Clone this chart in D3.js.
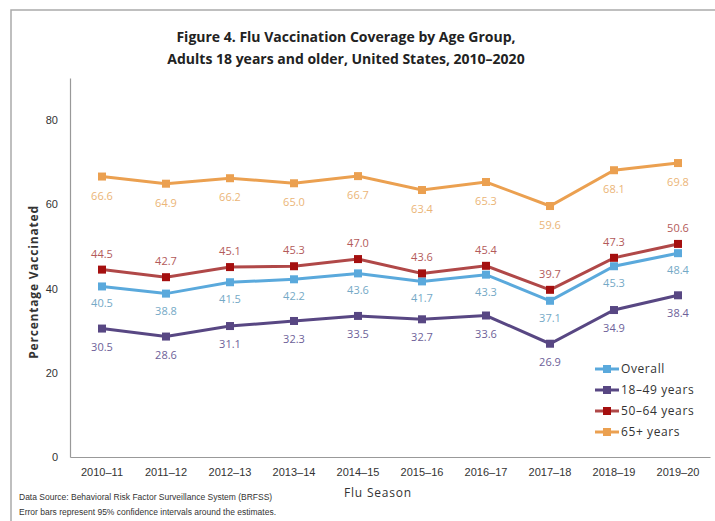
<!DOCTYPE html>
<html>
<head>
<meta charset="utf-8">
<script src="https://cdn.jsdelivr.net/npm/d3@7"></script>
<style>
  body { margin: 0; background: #fff; }
  svg { display: block; font-family: "Open Sans", "Liberation Sans", sans-serif; }
</style>
</head>
<body>
<svg id="chart"></svg>
<script>
const width = 715;
const height = 521;

// Data
const seasons = ["2010\u201311", "2011\u201312", "2012\u201313", "2013\u201314", "2014\u201315",
                 "2015\u201316", "2016\u201317", "2017\u201318", "2018\u201319", "2019\u201320"];
const overall = [40.5, 38.8, 41.5, 42.2, 43.6, 41.7, 43.3, 37.1, 45.3, 48.4];
const age18to49 = [30.5, 28.6, 31.1, 32.3, 33.5, 32.7, 33.6, 26.9, 34.9, 38.4];
const age50to64 = [44.5, 42.7, 45.1, 45.3, 47.0, 43.6, 45.4, 39.7, 47.3, 50.6];
const age65plus = [66.6, 64.9, 66.2, 65.0, 66.7, 63.4, 65.3, 59.6, 68.1, 69.8];
const yTicks = [0, 20, 40, 60, 80];

const series = [
    { name: "Overall", values: overall, color: "#5aa9dc", label: "#74a9c6", dy: 21 },
    { name: "18\u201349 years", values: age18to49, color: "#584783", label: "#6d6199", dy: 22 },
    { name: "50\u201364 years", values: age50to64, color: "#b04848", marker: "#a50f0f", label: "#b35a5a", dy: -12 },
    { name: "65+ years", values: age65plus, color: "#eba050", label: "#ebb577", dy: 23 }
];

var svg = d3.select("#chart")
    .attr("width", width)
    .attr("height", height);

// outer frame
svg.append("rect")
    .attr("x", 11).attr("y", 10)
    .attr("width", width).attr("height", height)
    .attr("fill", "none")
    .attr("stroke", "#aaa")
    .attr("stroke-width", 1.5);

var x = d3.scaleBand()
    .domain(seasons)
    .range([70, 710]);

var y = d3.scaleLinear()
    .domain([0, 90])
    .range([457, 78]);

// title
svg.append("text")
    .attr("x", 346).attr("y", 42)
    .attr("text-anchor", "middle")
    .attr("font-size", 14).attr("font-weight", "bold").attr("fill", "#222")
    .selectAll("tspan")
    .data(["Figure 4. Flu Vaccination Coverage by Age Group,",
           "Adults 18 years and older, United States, 2010\u20132020"])
    .enter().append("tspan")
    .attr("x", 346)
    .attr("dy", (d, i) => i ? 22 : 0)
    .text(d => d);

// axes
var yAxis = svg.append("g")
    .attr("transform", "translate(70,0)")
    .call(d3.axisLeft(y).tickValues(yTicks).tickSize(0).tickPadding(12));
yAxis.select(".domain").attr("stroke", "#999").attr("stroke-width", 1.2);
yAxis.selectAll("text").attr("font-size", 11).attr("fill", "#333");

var xAxis = svg.append("g")
    .attr("transform", "translate(0,457)")
    .call(d3.axisBottom(x).tickSize(0).tickPadding(11));
xAxis.select(".domain").attr("stroke", "#999").attr("stroke-width", 1.2);
xAxis.selectAll("text").attr("font-size", 11).attr("fill", "#333");

svg.append("text")
    .attr("transform", "translate(38,282) rotate(-90)")
    .attr("text-anchor", "middle")
    .attr("font-size", 12).attr("font-weight", "bold").attr("fill", "#333")
    .attr("letter-spacing", 0.8)
    .text("Percentage Vaccinated");

svg.append("text")
    .attr("x", 378).attr("y", 497)
    .attr("text-anchor", "middle")
    .attr("font-size", 12).attr("fill", "#333")
    .attr("letter-spacing", 0.8)
    .text("Flu Season");

// footnote
svg.append("g")
    .selectAll("text")
    .data(["Data Source: Behavioral Risk Factor Surveillance System (BRFSS)",
           "Error bars represent 95% confidence intervals around the estimates."])
    .enter().append("text")
    .attr("x", 19)
    .attr("y", (d, i) => 500 + i * 15)
    .attr("font-size", 8.5)
    .attr("font-family", "'Liberation Sans Narrow', 'Liberation Sans', sans-serif")
    .attr("fill", "#333")
    .text(d => d);

var cx = d => x(d) + x.bandwidth() / 2;
var line = d3.line()
    .x((d, i) => cx(seasons[i]))
    .y(d => y(d));

var g = svg.selectAll(".series")
    .data(series)
    .enter().append("g")
    .attr("class", "series");

g.append("path")
    .attr("d", s => line(s.values))
    .attr("fill", "none")
    .attr("stroke", s => s.color)
    .attr("stroke-width", 3);

g.selectAll("rect")
    .data(s => s.values.map((v, i) => ({ v: v, i: i, s: s })))
    .enter().append("rect")
    .attr("x", d => cx(seasons[d.i]) - 4)
    .attr("y", d => y(d.v) - 4)
    .attr("width", 8).attr("height", 8)
    .attr("fill", d => d.s.marker || d.s.color);

g.selectAll(".lbl")
    .data(s => s.values.map((v, i) => ({ v: v, i: i, s: s })))
    .enter().append("text")
    .attr("class", "lbl")
    .attr("x", d => cx(seasons[d.i]))
    .attr("y", d => y(d.v) + d.s.dy)
    .attr("text-anchor", "middle")
    .attr("font-size", 11)
    .attr("fill", d => d.s.label)
    .text(d => d.v.toFixed(1));

// legend
var leg = svg.append("g")
    .selectAll("g")
    .data(series)
    .enter().append("g")
    .attr("transform", (d, i) => `translate(595,${369 + i * 21})`);

leg.append("line")
    .attr("x1", 0).attr("x2", 24)
    .attr("stroke", d => d.color)
    .attr("stroke-width", 3);

leg.append("rect")
    .attr("x", 8).attr("y", -4)
    .attr("width", 8).attr("height", 8)
    .attr("fill", d => d.marker || d.color);

leg.append("text")
    .attr("x", 26).attr("y", 4)
    .attr("font-size", 12).attr("fill", "#333")
    .attr("letter-spacing", 0.6)
    .text(d => d.name);
</script>
</body>
</html>
